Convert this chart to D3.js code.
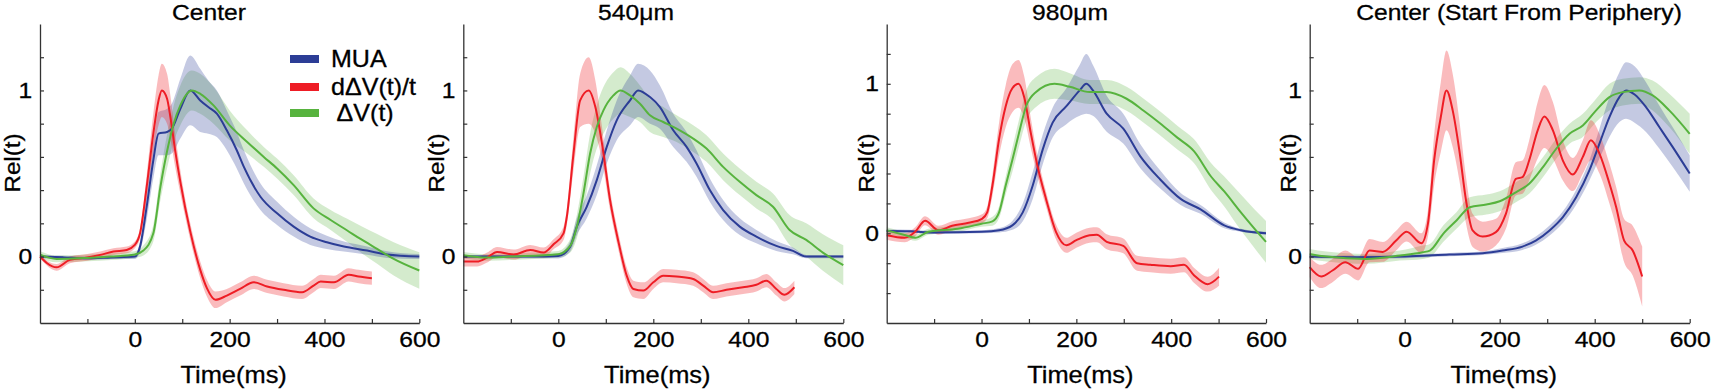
<!DOCTYPE html>
<html>
<head>
<meta charset="utf-8">
<script src="https://cdn.jsdelivr.net/npm/d3@7"></script>
<style>
  body { margin: 0; background: #fff; }
  text { font-family: "Liberation Sans", Arial, sans-serif; fill: #000; stroke: #000; stroke-width: 0.3px; }
</style>
</head>
<body>
<div id="chart"></div>
<script>
// values: [time (ms), mean Rel(t), half width of shaded band]

// Center
var centerMUA = [[-200,0,0.01],[-150,-0.005,0.01],[-100,-0.01,0.01],[-50,-0.005,0.01],[0,0,0.015],[11,0.06,0.03],[25,0.3,0.08],[39,0.58,0.11],[50,0.74,0.13],[68,0.75,0.14],[78,0.77,0.15],[96,0.89,0.18],[117,1,0.21],[138,0.94,0.19],[155,0.9,0.16],[173,0.86,0.14],[194,0.76,0.12],[215,0.64,0.11],[230,0.54,0.1],[265,0.36,0.08],[300,0.26,0.07],[335,0.18,0.06],[370,0.12,0.05],[405,0.086,0.04],[441,0.06,0.03],[490,0.036,0.025],[532,0.012,0.02],[600,0,0.015]];
var centerDV = [[-200,0,0.01],[-185,-0.04,0.015],[-165,-0.065,0.02],[-137,-0.02,0.02],[-100,-0.005,0.02],[-73,0.01,0.02],[-45,0.03,0.02],[-17,0.04,0.02],[0,0.07,0.02],[11,0.14,0.03],[25,0.42,0.07],[39,0.74,0.12],[50,0.94,0.15],[57,1,0.16],[68,0.95,0.15],[75,0.84,0.13],[85,0.64,0.1],[96,0.45,0.07],[117,0.15,0.05],[138,-0.08,0.05],[152,-0.19,0.05],[170,-0.26,0.05],[194,-0.235,0.04],[222,-0.195,0.04],[251,-0.155,0.04],[279,-0.18,0.04],[314,-0.2,0.04],[353,-0.215,0.04],[377,-0.175,0.04],[392,-0.15,0.04],[420,-0.155,0.04],[451,-0.11,0.04],[472,-0.12,0.04],[500,-0.13,0.04]];
var centerV = [[-200,0.012,0.02],[-165,-0.014,0.02],[-100,-0.008,0.02],[-50,0,0.02],[0,0.012,0.02],[18,0.036,0.03],[39,0.14,0.05],[54,0.42,0.08],[67,0.62,0.1],[82,0.8,0.11],[96,0.91,0.12],[120,1,0.12],[138,0.98,0.12],[166,0.91,0.11],[200,0.79,0.09],[237,0.69,0.07],[272,0.6,0.06],[300,0.53,0.06],[335,0.43,0.06],[377,0.29,0.06],[413,0.22,0.06],[448,0.157,0.07],[476,0.106,0.08],[511,0.046,0.09],[546,-0.014,0.1],[600,-0.084,0.11]];

// 540um
var um540MUA = [[-200,0,0.01],[-100,0,0.01],[-52,0,0.01],[0,0.004,0.015],[25,0.06,0.03],[39,0.18,0.05],[60,0.3,0.07],[81,0.46,0.09],[102,0.66,0.1],[123,0.82,0.12],[151,0.94,0.15],[168,1,0.16],[193,0.96,0.16],[214,0.9,0.13],[242,0.76,0.1],[270,0.66,0.09],[291,0.56,0.08],[319,0.4,0.07],[347,0.28,0.06],[382,0.18,0.05],[417,0.12,0.04],[459,0.064,0.03],[494,0.034,0.02],[522,0,0.01],[600,0,0.01]];
var um540DV = [[-200,-0.03,0.03],[-171,-0.03,0.03],[-150,-0.006,0.03],[-129,0.028,0.03],[-94,0.012,0.03],[-59,0.04,0.03],[-31,0.024,0.03],[-10,0.074,0.03],[11,0.14,0.04],[18,0.24,0.05],[32,0.62,0.1],[46,0.94,0.16],[64,1,0.2],[78,0.9,0.16],[92,0.68,0.1],[109,0.34,0.06],[127,0.084,0.05],[144,-0.115,0.05],[158,-0.195,0.05],[179,-0.205,0.05],[200,-0.155,0.04],[221,-0.115,0.04],[249,-0.12,0.04],[284,-0.135,0.04],[305,-0.175,0.04],[326,-0.215,0.04],[354,-0.2,0.04],[389,-0.185,0.04],[417,-0.17,0.04],[438,-0.145,0.04],[459,-0.195,0.04],[476,-0.23,0.04],[497,-0.185,0.04]];
var um540V = [[-200,0.008,0.02],[-150,-0.006,0.02],[-100,0,0.02],[0,0.014,0.02],[25,0.064,0.04],[39,0.18,0.07],[53,0.38,0.1],[67,0.62,0.12],[81,0.78,0.13],[95,0.88,0.14],[116,0.97,0.14],[131,1,0.14],[151,0.97,0.13],[172,0.92,0.11],[193,0.85,0.1],[221,0.81,0.09],[249,0.77,0.08],[284,0.71,0.08],[312,0.65,0.08],[347,0.54,0.08],[382,0.45,0.08],[417,0.37,0.08],[452,0.3,0.08],[487,0.16,0.09],[522,0.1,0.1],[557,0.024,0.11],[600,-0.052,0.12]];

// 980um
var um980MUA = [[-200,0.015,0.01],[-150,0.013,0.01],[-100,0.005,0.01],[0,0.01,0.01],[37,0.02,0.015],[65,0.053,0.03],[87,0.14,0.06],[108,0.32,0.09],[129,0.56,0.1],[150,0.74,0.1],[179,0.85,0.12],[207,0.956,0.17],[221,1,0.2],[235,0.956,0.17],[264,0.8,0.12],[299,0.7,0.1],[335,0.515,0.08],[377,0.36,0.06],[420,0.23,0.04],[462,0.16,0.03],[512,0.053,0.02],[547,0.02,0.01],[600,0,0.01]];
var um980DV = [[-200,-0.013,0.03],[-162,-0.03,0.03],[-140,0.01,0.03],[-119,0.084,0.03],[-91,0.02,0.03],[-62,0.05,0.03],[-27,0.07,0.03],[1,0.097,0.03],[12,0.14,0.04],[23,0.32,0.07],[37,0.63,0.11],[51,0.85,0.14],[65,0.97,0.16],[78,1,0.16],[90,0.91,0.14],[104,0.67,0.1],[118,0.45,0.07],[136,0.23,0.05],[157,0.01,0.05],[179,-0.08,0.05],[200,-0.046,0.05],[228,-0.013,0.05],[243,-0.01,0.05],[264,-0.057,0.05],[299,-0.084,0.05],[328,-0.2,0.05],[356,-0.21,0.05],[399,-0.22,0.05],[427,-0.21,0.05],[448,-0.28,0.05],[477,-0.34,0.05],[501,-0.29,0.06]];
var um980V = [[-200,0.02,0.02],[-160,-0.013,0.02],[-140,-0.03,0.02],[-112,0.01,0.02],[-50,0.03,0.02],[0,0.064,0.02],[23,0.08,0.03],[37,0.14,0.04],[51,0.32,0.06],[65,0.49,0.08],[79,0.67,0.09],[94,0.85,0.1],[115,0.945,0.1],[154,1,0.1],[186,0.98,0.09],[228,0.945,0.08],[264,0.945,0.08],[306,0.9,0.08],[342,0.82,0.08],[377,0.735,0.08],[413,0.64,0.08],[448,0.55,0.08],[484,0.38,0.09],[512,0.28,0.1],[547,0.14,0.12],[576,0.03,0.13],[600,-0.057,0.14]];

// Center (start from periphery)
var periMUA = [[-200,0,0.01],[-100,-0.004,0.01],[0,0,0.01],[94,0.012,0.01],[164,0.02,0.01],[206,0.036,0.015],[248,0.06,0.02],[276,0.096,0.025],[305,0.157,0.03],[333,0.237,0.035],[361,0.357,0.045],[389,0.52,0.06],[410,0.68,0.09],[431,0.84,0.12],[452,0.96,0.15],[466,1,0.17],[484,0.976,0.17],[508,0.9,0.15],[536,0.78,0.13],[564,0.66,0.12],[600,0.5,0.11]];
var periDV = [[-200,-0.064,0.06],[-176,-0.12,0.07],[-152,-0.084,0.07],[-125,-0.034,0.07],[-98,-0.074,0.07],[-74,0.036,0.07],[-46,0.028,0.06],[-18,0.096,0.06],[4,0.15,0.06],[35,0.08,0.06],[49,0.2,0.08],[62,0.58,0.15],[76,0.84,0.21],[88,1,0.24],[101,0.88,0.22],[115,0.64,0.18],[129,0.34,0.14],[143,0.157,0.1],[164,0.12,0.09],[192,0.147,0.08],[213,0.257,0.09],[234,0.468,0.1],[248,0.478,0.1],[262,0.578,0.12],[280,0.76,0.17],[294,0.843,0.19],[312,0.76,0.17],[333,0.578,0.12],[354,0.494,0.1],[375,0.6,0.1],[392,0.7,0.12],[410,0.62,0.12],[431,0.44,0.12],[445,0.3,0.12],[462,0.096,0.13],[480,0.036,0.15],[500,-0.12,0.18]];
var periV = [[-200,0.016,0.03],[-165,0,0.03],[-81,-0.014,0.03],[-10,0.006,0.03],[38,0.026,0.04],[53,0.036,0.04],[81,0.137,0.05],[109,0.217,0.05],[137,0.297,0.06],[172,0.313,0.06],[200,0.333,0.06],[234,0.387,0.06],[262,0.438,0.06],[291,0.538,0.06],[319,0.649,0.06],[347,0.739,0.06],[375,0.789,0.07],[403,0.88,0.07],[431,0.96,0.08],[459,0.99,0.08],[494,1,0.08],[522,0.97,0.09],[557,0.88,0.1],[600,0.739,0.12]];

var panelTitles = ["Center", "540\u03bcm", "980\u03bcm", "Center (Start From Periphery)"];
var seriesNames = ["MUA", "d\u0394V(t)/t", " \u0394V(t)"];
var xTicks = [-100, 0, 100, 200, 300, 400, 500, 600];
var xTickLabels = [0, 200, 400, 600];
var yTicks = [-0.4, -0.2, 0, 0.2, 0.4, 0.6, 0.8, 1, 1.2];
var yTickLabels = [0, 1];

// colours: MUA, dV/t, V
var lineColors = ["#2c3d96", "#ee1d25", "#57b33e"];
var bandOpacity = [0.28, 0.3, 0.26];

var width = 1713, height = 391;
var plotTop = 24, plotBottom = 323;
// the source figure's lettering is a little wider than plain Arial
var stretch = 1.12;

var panels = [
  {data: [centerMUA, centerDV, centerV], left: 40,     right: 419.3,  yDomain: [-0.4, 1.4], titleX: 209,  ylabOff: 20},
  {data: [um540MUA, um540DV, um540V],    left: 463.3,  right: 843.3,  yDomain: [-0.4, 1.4], titleX: 636,  ylabOff: 19},
  {data: [um980MUA, um980DV, um980V],    left: 886.7,  right: 1266,   yDomain: [-0.6, 1.4], titleX: 1070, ylabOff: 13},
  {data: [periMUA, periDV, periV],       left: 1309.7, right: 1689.7, yDomain: [-0.4, 1.4], titleX: 1519, ylabOff: 14}
];

var svg = d3.select("#chart")
  .append("svg")
    .attr("width", width)
    .attr("height", height);

// place a text at (x, y) with horizontal stretch (and optional rotation)
function putText(parent, str, x, y, size, sx, anchor, rot) {
  return parent.append("text")
    .attr("transform", "translate(" + x + "," + y + ")" + (rot ? "rotate(" + rot + ")" : "") + "scale(" + sx + ",1)")
    .attr("text-anchor", anchor || "middle")
    .style("font-size", size + "px")
    .style("white-space", "pre")
    .text(str);
}

panels.forEach(function(p, i) {
  var x = d3.scaleLinear().domain([-200, 600]).range([p.left, p.right]);
  var y = d3.scaleLinear().domain(p.yDomain).range([plotBottom, plotTop]);

  var g = svg.append("g");

  var area = d3.area()
    .x(function(d) { return x(d[0]); })
    .y0(function(d) { return y(d[1] - d[2]); })
    .y1(function(d) { return y(d[1] + d[2]); })
    .curve(d3.curveMonotoneX);

  var line = d3.line()
    .x(function(d) { return x(d[0]); })
    .y(function(d) { return y(d[1]); })
    .curve(d3.curveMonotoneX);

  // shaded bands: V under MUA under dV/t
  [2, 0, 1].forEach(function(k) {
    g.append("path")
      .datum(p.data[k])
      .attr("d", area)
      .attr("fill", lineColors[k])
      .attr("fill-opacity", bandOpacity[k])
      .attr("stroke", "none");
  });

  // mean lines
  [0, 1, 2].forEach(function(k) {
    g.append("path")
      .datum(p.data[k])
      .attr("d", line)
      .attr("fill", "none")
      .attr("stroke", lineColors[k])
      .attr("stroke-width", 2);
  });

  // X axis
  var xAxis = g.append("g")
    .attr("transform", "translate(0," + plotBottom + ")")
    .call(d3.axisBottom(x)
      .tickValues(xTicks)
      .tickSizeInner(-4)
      .tickSizeOuter(0)
      .tickPadding(8)
      .tickFormat(function(d) { return xTickLabels.indexOf(d) >= 0 ? d : ""; }));
  xAxis.attr("font-size", 22);
  xAxis.selectAll("text").attr("transform", "scale(" + stretch + ",1)");

  // Y axis
  var yAxis = g.append("g")
    .attr("transform", "translate(" + p.left + ",0)")
    .call(d3.axisLeft(y)
      .tickValues(yTicks.filter(function(v) { return v > p.yDomain[0] + 1e-9; }))
      .tickSizeInner(-4)
      .tickSizeOuter(0)
      .tickPadding(7)
      .tickFormat(function(d) {
        var hit = yTickLabels.filter(function(v) { return Math.abs(v - d) < 1e-9; });
        return hit.length ? hit[0] : "";
      }));
  yAxis.attr("font-size", 22);
  yAxis.selectAll("text").attr("transform", "scale(" + stretch + ",1)");

  g.selectAll(".domain").attr("stroke", "#333").attr("stroke-width", 1.3);
  g.selectAll(".tick line").attr("stroke", "#333").attr("stroke-width", 1.2);

  // title and axis labels
  putText(g, panelTitles[i], p.titleX, 20, 22, stretch);
  putText(g, "Time(ms)", (p.left + p.right) / 2 + 4, 382.5, 24, 1.06);
  putText(g, "Rel(t)", p.left - p.ylabOff, 163, 22, 1.1, "middle", -90);
});

// legend (first panel only)
var legend = svg.append("g");
seriesNames.forEach(function(name, k) {
  var ly = [59, 87, 113][k];
  legend.append("line")
    .attr("x1", 290).attr("x2", 319)
    .attr("y1", ly).attr("y2", ly)
    .attr("stroke", lineColors[k])
    .attr("stroke-width", 8);
  putText(legend, name, 331, ly + 8, 23, 1.09, "start");
});
</script>
</body>
</html>
